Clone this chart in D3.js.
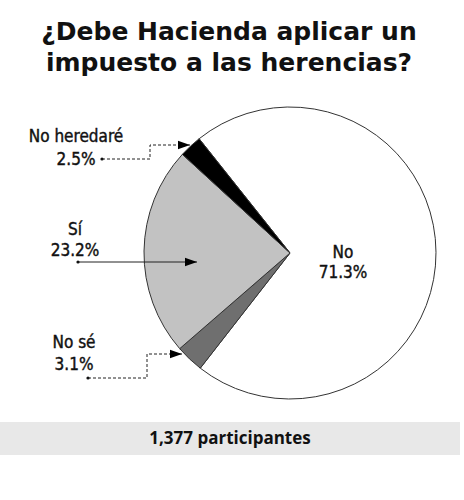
<!DOCTYPE html>
<html><head><meta charset="utf-8">
<script src="https://cdn.jsdelivr.net/npm/d3@7"></script>
<style>body{margin:0;background:#fff}svg{display:block}</style>
</head><body>
<svg id="c" width="464" height="500"></svg>
<script>
const title = ["¿Debe Hacienda aplicar un", "impuesto a las herencias?"];
const categories = ["No", "No sé", "Sí", "No heredaré"];
const values = [71.3, 3.1, 23.2, 2.5];
const colors = ["#ffffff", "#6f6f6f", "#c2c2c2", "#000000"];
const footer = "1,377 participantes";

const svg = d3.select("#c");
const cx = 290, cy = 253, R = 146;
const start = -38.5 * Math.PI / 180;

svg.append("defs").append("marker").attr("id","ah").attr("viewBox","0 0 10 10")
  .attr("refX",10).attr("refY",5).attr("markerWidth",12).attr("markerHeight",12)
  .attr("markerUnits","userSpaceOnUse").attr("orient","auto")
  .append("path").attr("d","M0,1.5 L10,5 L0,8.5 Z").attr("fill","#000");

const tfont = "'DejaVu Sans', 'Open Sans', sans-serif";
svg.selectAll("text.title").data(title).join("text").attr("class","title")
  .attr("x",229).attr("y",(d,i)=>40+i*31).attr("text-anchor","middle")
  .attr("font-family",tfont).attr("font-weight",700).attr("font-size",25)
  .attr("fill","#111").text(d=>d);

const pie = d3.pie().sort(null).value(d=>d).startAngle(start).endAngle(start+2*Math.PI);
const arc = d3.arc().innerRadius(0).outerRadius(R);
const g = svg.append("g").attr("transform",`translate(${cx},${cy})`);
const arcs = pie(values);
g.selectAll("path").data(arcs).join("path").attr("d",arc)
  .attr("fill",(d,i)=>colors[i]).attr("stroke","#333").attr("stroke-width",1);

const lfont = "'Liberation Sans Narrow','DejaVu Sans Condensed', sans-serif";
const fmt = v => v.toFixed(1) + "%";
const labelPos = [
  {x:343, y1:258, y2:278},
  {x:74, y1:348, y2:370},
  {x:75, y1:235, y2:256},
  {x:76, y1:142, y2:165}
];
categories.forEach((c,i)=>{
  const p = labelPos[i];
  const t = svg.append("text").attr("text-anchor","middle").attr("font-family",lfont)
    .attr("font-size",17).attr("fill","#111").attr("stroke","#111").attr("stroke-width",0.4);
  t.append("tspan").attr("x",p.x).attr("y",p.y1).text(c);
  t.append("tspan").attr("x",p.x).attr("y",p.y2).text(fmt(values[i]));
});

function leader(pts, dashed){
  svg.append("path").attr("d", d3.line()(pts)).attr("fill","none")
    .attr("stroke","#222").attr("stroke-width",1)
    .attr("stroke-dasharray", dashed? "3,2": null).attr("marker-end","url(#ah)");
  svg.append("circle").attr("cx",pts[0][0]).attr("cy",pts[0][1]).attr("r",1.6).attr("fill","#111");
}
leader([[102,159],[150,159],[150,145],[190,145]], true);
leader([[78,262],[197,262]], false);
leader([[88,378],[147,378],[147,354],[182,354]], true);

svg.append("rect").attr("x",0).attr("y",422).attr("width",460).attr("height",33).attr("fill","#e8e8e8");
svg.append("text").attr("x",230).attr("y",444).attr("text-anchor","middle")
  .attr("font-family","'Open Sans', sans-serif").attr("font-weight",700).attr("font-size",17).attr("fill","#111").text(footer);
</script>
</body></html>
